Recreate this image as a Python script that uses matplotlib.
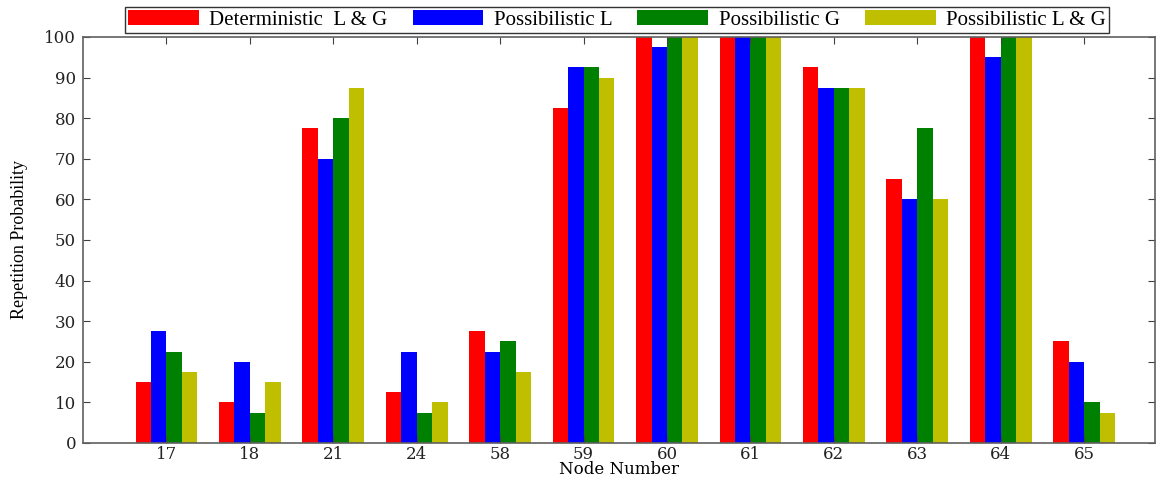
import numpy as np
import matplotlib.pyplot as plt

nodes = ["17", "18", "21", "24", "58", "59", "60", "61", "62", "63", "64", "65"]
det_lg = [15, 10, 77.5, 12.5, 27.5, 82.5, 100, 100, 92.5, 65, 100, 25]
pos_l = [27.5, 20, 70, 22.5, 22.5, 92.5, 97.5, 100, 87.5, 60, 95, 20]
pos_g = [22.5, 7.5, 80, 7.5, 25, 92.5, 100, 100, 87.5, 77.5, 100, 10]
pos_lg = [17.5, 15, 87.5, 10, 17.5, 90, 100, 100, 87.5, 60, 100, 7.5]

series = [
    ("Deterministic  L & G", det_lg, "#ff0000"),
    ("Possibilistic L", pos_l, "#0000ff"),
    ("Possibilistic G", pos_g, "#008000"),
    ("Possibilistic L & G", pos_lg, "#bfbf00"),
]

fig = plt.figure(figsize=(11.63, 4.79), dpi=100)
ax = fig.add_axes([0.0714, 0.0752, 0.9217, 0.8476])

x = np.arange(1, len(nodes) + 1)
w = 0.185
for i, (name, vals, col) in enumerate(series):
    ax.bar(x + (i - 1.5) * w, vals, width=w, color=col, label=name,
           edgecolor="none")

ax.set_xlim(0, 12.85)
ax.set_ylim(0, 100)
ax.set_yticks(range(0, 101, 10))
ax.set_xticks(x, nodes)

for s in ax.spines.values():
    s.set_color("#606060")
    s.set_linewidth(1.2)
ax.tick_params(direction="in", top=True, right=True, colors="#404040",
               length=5, labelsize=12, labelcolor="#222222")
ax.tick_params(axis="y", pad=5)
ax.tick_params(axis="x", pad=2)
for lab in ax.get_xticklabels() + ax.get_yticklabels():
    lab.set_family("DejaVu Serif")

ax.set_xlabel("Node Number", family="DejaVu Serif", fontsize=12, labelpad=-1)
ax.set_ylabel("Repetition Probability", family="Liberation Serif", fontsize=13,
              labelpad=12)

leg = ax.legend(ncol=4, loc="lower center", bbox_to_anchor=(0.498, 1.01),
                prop={"family": "Liberation Serif", "size": 15},
                frameon=True, fancybox=False, shadow=False,
                handlelength=3.4, handleheight=0.75, handletextpad=0.5,
                columnspacing=1.2, borderpad=0.15, borderaxespad=0)
leg.get_frame().set_edgecolor("black")
leg.get_frame().set_linewidth(1.0)

fig.savefig("out.png", dpi=100)
